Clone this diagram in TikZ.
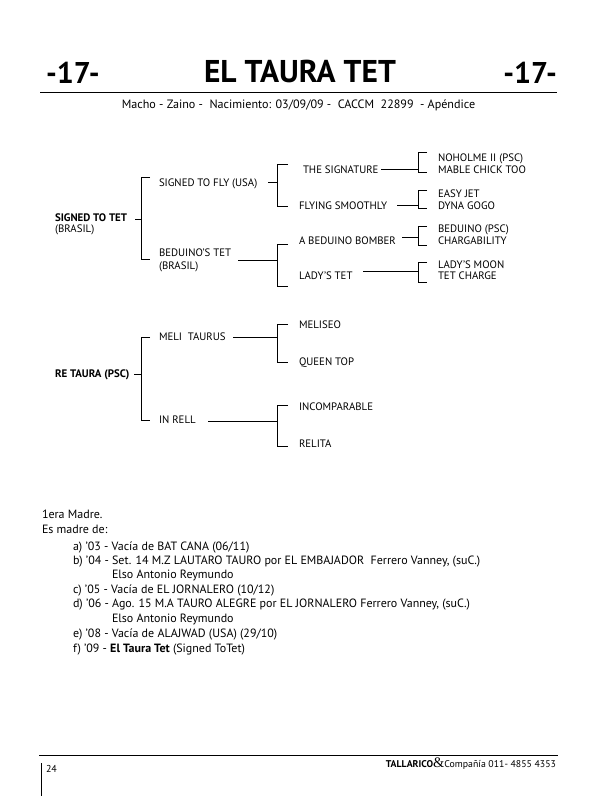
\documentclass[tikz,border=0pt]{standalone}
\usepackage{fontspec}
\setmainfont{PT Sans}
\newfontfamily\ampfont{Liberation Serif}
\begin{document}
\begin{tikzpicture}[x=1pt,y=-1pt,
  every node/.style={inner sep=0pt, outer sep=0pt, text=black},
  ped/.style={anchor=base west, font=\fontsize{10.8}{12}\selectfont},
  pedb/.style={anchor=base west, font=\fontsize{10.9}{12}\selectfont\bfseries},
  conn/.style={line width=0.8pt},
  rule/.style={line width=1pt},
  body/.style={anchor=base west, font=\fontsize{12}{14}\selectfont}]
\useasboundingbox (0,0) rectangle (600,796);

% header
\node[anchor=base, font=\fontsize{31.5}{31.5}\selectfont\bfseries] (title) at (300,82) {EL TAURA TET};
\node[anchor=base west, font=\fontsize{30}{30}\selectfont\bfseries] (numl) at (46,83) {-17-};
\node[anchor=base east, font=\fontsize{30}{30}\selectfont\bfseries] (numr) at (557,83) {-17-};
\draw[rule] (40,92) -- (557,92);
\node[anchor=base, font=\fontsize{12.1}{14}\selectfont] (sub) at (298.5,108)
  {Macho - Zaino -\ \ Nacimiento: 03/09/09 -\ \ CACCM\ \ 22899\ \ - Apéndice};

% sire side
\node[pedb] (s) at (55,221) {SIGNED TO TET};
\node[ped] (sb) at (55,232) {(BRASIL)};
\node[ped] (sf) at (159,186) {SIGNED TO FLY (USA)};
\node[ped] (bt) at (159,256) {BEDUINO’S TET};
\node[ped] (btb) at (159,269) {(BRASIL)};
\node[ped] (ts) at (303,173) {THE SIGNATURE};
\node[ped] (fs) at (299,209) {FLYING SMOOTHLY};
\node[ped] (ab) at (299,244) {A BEDUINO BOMBER};
\node[ped] (lt) at (299,279) {LADY’S TET};
\node[ped] (nh) at (438,161) {NOHOLME II (PSC)};
\node[ped] (mc) at (438,173) {MABLE CHICK TOO};
\node[ped] (ej) at (438,197) {EASY JET};
\node[ped] (dg) at (438,209) {DYNA GOGO};
\node[ped] (bp) at (438,232) {BEDUINO (PSC)};
\node[ped] (cg) at (438,244) {CHARGABILITY};
\node[ped] (lm) at (438,268) {LADY’S MOON};
\node[ped] (tc) at (438,279) {TET CHARGE};

\draw[conn] (135,219) -- (141,219);
\draw[conn] (150,177) -| (141,259) -- (150,259);
\draw[conn] (268,182) -- (277,182);
\draw[conn] (288,164) -| (277,206) -- (288,206);
\draw[conn] (238,260) -- (277,260);
\draw[conn] (288,244) -| (277,286) -- (288,286);
\draw[conn] (381,169) -- (418,169);
\draw[conn] (427,152) -| (418,172) -- (427,172);
\draw[conn] (397,205) -- (418,205);
\draw[conn] (427,190) -| (418,208) -- (427,208);
\draw[conn] (402,237) -- (418,237);
\draw[conn] (427,226) -| (418,245) -- (427,245);
\draw[conn] (363,271) -- (418,271);
\draw[conn] (427,262) -| (418,282) -- (427,282);

% dam side
\node[pedb] (rt) at (55,377) {RE TAURA (PSC)};
\node[ped] (mt) at (159,340) {MELI\ \ TAURUS};
\node[ped] (ir) at (159,423) {IN RELL};
\node[ped] (ms) at (299,328) {MELISEO};
\node[ped] (qt) at (299,365) {QUEEN TOP};
\node[ped] (ic) at (299,410) {INCOMPARABLE};
\node[ped] (rl) at (299,447) {RELITA};

\draw[conn] (134,374) -- (141,374);
\draw[conn] (150,337) -| (141,420) -- (150,420);
\draw[conn] (233,337) -- (277,337);
\draw[conn] (288,324) -| (277,362) -- (288,362);
\draw[conn] (208,421) -- (277,421);
\draw[conn] (288,405) -| (277,446) -- (288,446);

% produce record
\node[body] (m1) at (42,518) {1era Madre.};
\node[body] (m2) at (42,533) {Es madre de:};
\node[body] (pa) at (73,550) {a) ’03 - Vacía de BAT CANA (06/11)};
\node[body] (pb) at (73,564) {b) ’04 - Set. 14 M.Z LAUTARO TAURO por EL EMBAJADOR\ \ Ferrero Vanney, (suC.)};
\node[body] (pb2) at (112,578) {Elso Antonio Reymundo};
\node[body] (pc) at (73,593) {c) ’05 - Vacía de EL JORNALERO (10/12)};
\node[body] (pd) at (73,607) {d) ’06 - Ago. 15 M.A TAURO ALEGRE por EL JORNALERO Ferrero Vanney, (suC.)};
\node[body] (pd2) at (112,622) {Elso Antonio Reymundo};
\node[body] (pe) at (73,637) {e) ’08 - Vacía de ALAJWAD (USA) (29/10)};
\node[body] (pf) at (73,652) {f) ’09 - \textbf{El Taura Tet} (Signed ToTet)};

% footer
\draw[conn] (39,755) -- (558,755);
\draw[conn] (41,763) -- (41,796);
\node[anchor=base west, font=\fontsize{10}{12}\selectfont] (pg) at (46,772) {24};
\node[anchor=base east, font=\fontsize{9.8}{11}\selectfont] (ft) at (556,767)
  {\textbf{TALLARICO}{\ampfont\fontsize{14.5}{14.5}\selectfont\&}Compañía 011- 4855 4353};
\end{tikzpicture}
\end{document}
